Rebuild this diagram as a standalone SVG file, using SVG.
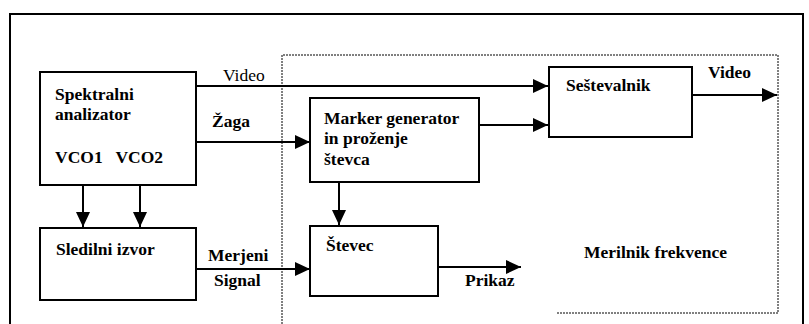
<svg xmlns="http://www.w3.org/2000/svg" width="809" height="324" viewBox="0 0 809 324">
<style>
.box{fill:none;stroke:#000;stroke-width:2}
.ln{fill:none;stroke:#000;stroke-width:2}
.t{font-family:'Liberation Serif','DejaVu Serif','Times New Roman',serif;font-size:17.5px;font-weight:bold;fill:#000}
.n{font-weight:normal}
</style>
<defs>
<marker id="a" markerWidth="15" markerHeight="14" refX="15" refY="7" orient="auto" markerUnits="userSpaceOnUse">
<path d="M0,0 L15,7 L0,14 z" fill="#000"/>
</marker>
</defs>
<rect width="809" height="324" fill="#fff"/>
<g id="frame">
<path d="M10,324 V14 H803 V324" class="box" stroke-width="2.5"/>
</g>
<g id="merilnik">
<path d="M282,324 V55 H778 V313 H557" fill="none" stroke="#000" stroke-width="1" stroke-dasharray="2,1"/>
<text class="t" x="584" y="258">Merilnik frekvence</text>
</g>
<g id="spektralni">
<rect class="box" x="40" y="72" width="156" height="113"/>
<text class="t" x="55" y="100">Spektralni</text>
<text class="t" x="55" y="120">analizator</text>
<text class="t" x="55" y="163" xml:space="preserve">VCO1   VCO2</text>
</g>
<g id="marker">
<rect class="box" x="310" y="98" width="169" height="84"/>
<text class="t" x="324" y="124">Marker generator</text>
<text class="t" x="324" y="144">in proženje</text>
<text class="t" x="324" y="165">števca</text>
</g>
<g id="sestevalnik">
<rect class="box" x="549" y="67" width="143" height="70"/>
<text class="t" x="566" y="91">Seštevalnik</text>
</g>
<g id="sledilni">
<rect class="box" x="40" y="228" width="156" height="72"/>
<text class="t" x="56" y="255">Sledilni izvor</text>
</g>
<g id="stevec">
<rect class="box" x="310" y="226" width="128" height="70"/>
<text class="t" x="326" y="251">Števec</text>
</g>
<g id="connectors">
<path class="ln" d="M196,86 H548" marker-end="url(#a)"/>
<path class="ln" d="M196,142 H310" marker-end="url(#a)"/>
<path class="ln" d="M479,125 H548" marker-end="url(#a)"/>
<path class="ln" d="M692,95 H777" marker-end="url(#a)"/>
<path class="ln" d="M83,185 V227" marker-end="url(#a)"/>
<path class="ln" d="M140,185 V227" marker-end="url(#a)"/>
<path class="ln" d="M339,182 V225" marker-end="url(#a)"/>
<path class="ln" d="M196,269 H310" marker-end="url(#a)"/>
<path class="ln" d="M438,267 H521" marker-end="url(#a)"/>
<text class="t n" x="223" y="81">Video</text>
<text class="t" x="212" y="127">Žaga</text>
<text class="t" x="708" y="78">Video</text>
<text class="t" x="208" y="261">Merjeni</text>
<text class="t" x="214" y="286">Signal</text>
<text class="t" x="465" y="286">Prikaz</text>
</g>
</svg>
